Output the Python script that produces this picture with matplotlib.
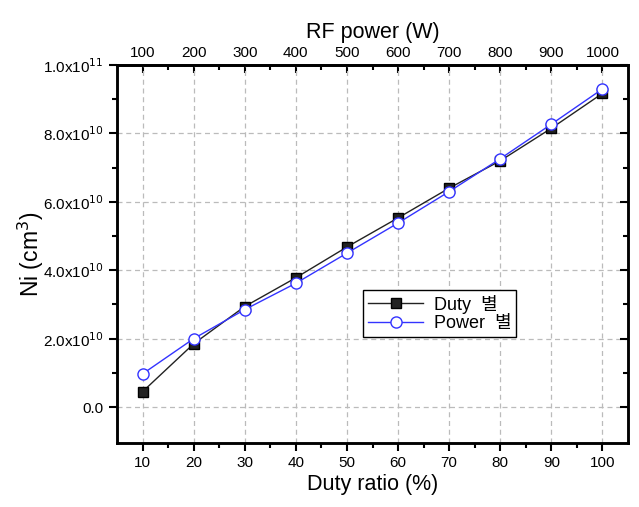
import matplotlib.pyplot as plt
import numpy as np

plt.rcParams['font.family'] = ['Liberation Sans', 'Noto Sans CJK KR', 'DejaVu Sans']

duty = [10, 20, 30, 40, 50, 60, 70, 80, 90, 100]
rf_power = [100, 200, 300, 400, 500, 600, 700, 800, 900, 1000]
ni_duty = [0.45e10, 1.85e10, 2.94e10, 3.78e10, 4.68e10, 5.53e10, 6.40e10, 7.20e10, 8.15e10, 9.17e10]
ni_power = [0.97e10, 2.00e10, 2.85e10, 3.62e10, 4.50e10, 5.38e10, 6.30e10, 7.26e10, 8.27e10, 9.30e10]
yticks = [0.0, 2.0e10, 4.0e10, 6.0e10, 8.0e10, 1.0e11]
ylabels = ['0.0', r'2.0x10$^{10}$', r'4.0x10$^{10}$', r'6.0x10$^{10}$', r'8.0x10$^{10}$', r'1.0x10$^{11}$']

fig = plt.figure(figsize=(6.39, 5.07), dpi=100)
ax = fig.add_axes([117/639, 1-443/507, (628-117)/639, (443-65)/507])

ax.plot(duty, ni_duty, color='#222222', lw=1, marker='s', ms=7,
        mfc='#222222', mec='black', label='Duty  별')
ax.plot(duty, ni_power, color='#3333ff', lw=1, marker='o', ms=8,
        mfc='white', mec='#3333ff', label='Power  별')

ax.set_xlim(5, 105)
ax.set_ylim(-1.05e10, 1.0e11)
ax.set_xticks(duty)
ax.set_xticks(np.arange(15, 100, 10), minor=True)
ax.set_yticks(yticks)
ax.set_yticklabels(ylabels)
ax.set_yticks(np.arange(1e10, 1e11, 2e10), minor=True)
ax.grid(True, which='major', ls=(0, (4, 3)), color='#bbbbbb', lw=0.9)

for s in ax.spines.values():
    s.set_linewidth(1.8)
ax.tick_params(which='both', direction='out', width=1.5, labelsize=11)
ax.tick_params(which='major', length=6)
ax.tick_params(which='minor', length=3.5)

# right side: ticks pointing inward, no labels
right = ax.twinx()
right.set_ylim(ax.get_ylim())
right.set_yticks(yticks)
right.set_yticks(np.arange(1e10, 1e11, 2e10), minor=True)
right.tick_params(which='both', direction='in', width=1.5, labelright=False)
right.tick_params(which='major', length=6)
right.tick_params(which='minor', length=3.5)
for s in right.spines.values():
    s.set_linewidth(1.8)

ax.set_xlabel('Duty ratio (%)', fontsize=15.5, labelpad=3)
ax.set_ylabel(r'Ni (cm$^{3}$)', fontsize=16.5, labelpad=-2)

top = ax.secondary_xaxis('top', functions=(lambda x: x * 10, lambda x: x / 10))
top.set_xticks(rf_power)
top.set_xticks(np.arange(150, 1000, 100), minor=True)
top.tick_params(which='both', direction='in', width=1.5, labelsize=11)
top.tick_params(which='major', length=6)
top.tick_params(which='minor', length=3.5)
top.spines['top'].set_linewidth(1.8)
top.set_xlabel('RF power (W)', fontsize=15.5, labelpad=6)

leg = ax.legend(loc='upper left', fontsize=13, frameon=True, fancybox=False,
                edgecolor='black', framealpha=1, borderpad=0.25, handlelength=3.1,
                handletextpad=0.6, labelspacing=0.1, borderaxespad=0,
                bbox_to_anchor=((363-117)/511, 1 - (290-65)/378))
leg.get_frame().set_linewidth(1.0)
leg.set_zorder(5)

fig.savefig('out.png', dpi=100)
